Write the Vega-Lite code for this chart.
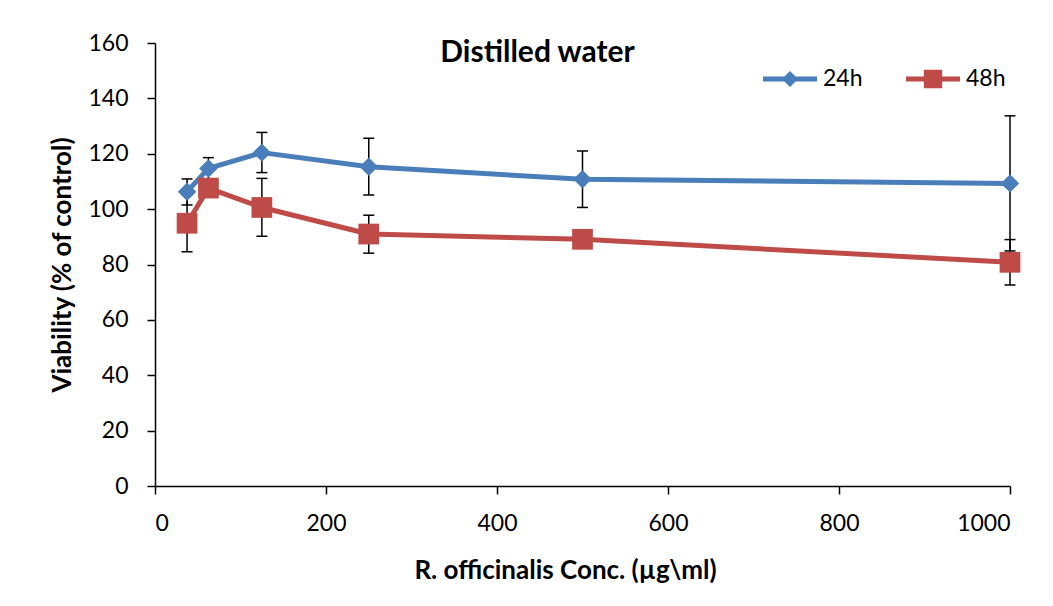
{
  "$schema": "https://vega.github.io/schema/vega-lite/v6.json",
  "width": 855,
  "height": 443,
  "autosize": "none",
  "padding": {"left": 155, "top": 43, "right": 43, "bottom": 120},
  "background": "white",
  "title": {
    "text": "Distilled water",
    "font": "Lato",
    "fontSize": 30,
    "fontWeight": "bold",
    "color": "black",
    "anchor": "middle",
    "frame": "group",
    "baseline": "middle",
    "offset": 0,
    "dx": -45,
    "dy": 51
  },
  "data": {
    "values": [
      {"conc": 37.5, "time": "24h", "v": 106.3, "lo": 101.5, "hi": 110.9},
      {"conc": 62.5, "time": "24h", "v": 114.7, "lo": 110.8, "hi": 118.6},
      {"conc": 125, "time": "24h", "v": 120.4, "lo": 113.2, "hi": 127.7},
      {"conc": 250, "time": "24h", "v": 115.3, "lo": 105.1, "hi": 125.6},
      {"conc": 500, "time": "24h", "v": 110.8, "lo": 100.6, "hi": 121.0},
      {"conc": 1000, "time": "24h", "v": 109.3, "lo": 84.9, "hi": 133.7},
      {"conc": 37.5, "time": "48h", "v": 94.9, "lo": 84.6, "hi": 105.2},
      {"conc": 62.5, "time": "48h", "v": 107.6, "lo": 105.1, "hi": 110.1},
      {"conc": 125, "time": "48h", "v": 100.6, "lo": 90.2, "hi": 111.1},
      {"conc": 250, "time": "48h", "v": 91.0, "lo": 84.1, "hi": 97.8},
      {"conc": 500, "time": "48h", "v": 89.1, "lo": 87.6, "hi": 90.6},
      {"conc": 1000, "time": "48h", "v": 80.8, "lo": 72.6, "hi": 89.0}
    ]
  },
  "encoding": {
    "x": {
      "field": "conc",
      "type": "quantitative",
      "scale": {"domain": [0, 1000], "nice": false, "zero": false},
      "axis": {
        "values": [0, 200, 400, 600, 800, 1000],
        "format": "d",
        "title": "R. officinalis Conc. (µg\\ml)",
        "titleX": 410,
        "titleY": 84,
        "titleBaseline": "middle",
        "labelPadding": 18
      }
    }
  },
  "layer": [
    {
      "mark": {"type": "rule", "color": "black", "strokeWidth": 1.5},
      "encoding": {
        "y": {
          "field": "lo",
          "type": "quantitative",
          "scale": {"domain": [0, 160], "nice": false},
          "axis": {
            "values": [0, 20, 40, 60, 80, 100, 120, 140, 160],
            "title": "Viability (% of control)",
            "titleX": -93,
            "titleY": 221.5,
            "titleAngle": -90,
            "titleBaseline": "middle",
            "titleAlign": "center",
            "labelPadding": 19
          }
        },
        "y2": {"field": "hi"}
      }
    },
    {
      "mark": {"type": "tick", "orient": "horizontal", "color": "black", "size": 11, "thickness": 1.5, "opacity": 1},
      "encoding": {"y": {"field": "lo", "type": "quantitative"}}
    },
    {
      "mark": {"type": "tick", "orient": "horizontal", "color": "black", "size": 11, "thickness": 1.5, "opacity": 1},
      "encoding": {"y": {"field": "hi", "type": "quantitative"}}
    },
    {
      "transform": [{"filter": "datum.time === '24h'"}],
      "mark": {"type": "line", "strokeWidth": 5, "strokeCap": "round", "strokeJoin": "round", "color": "#4a7ebb"},
      "encoding": {"y": {"field": "v", "type": "quantitative"}}
    },
    {
      "transform": [{"filter": "datum.time === '48h'"}],
      "mark": {"type": "line", "strokeWidth": 5, "strokeCap": "round", "strokeJoin": "round", "color": "#be4b48"},
      "encoding": {"y": {"field": "v", "type": "quantitative"}}
    },
    {
      "transform": [{"filter": "datum.time === '24h'"}],
      "mark": {"type": "point", "shape": "diamond", "filled": true, "size": 340, "color": "#4a7ebb", "opacity": 1, "strokeWidth": 0},
      "encoding": {"y": {"field": "v", "type": "quantitative"}}
    },
    {
      "transform": [{"filter": "datum.time === '48h'"}],
      "mark": {"type": "point", "shape": "square", "filled": true, "size": 430, "color": "#be4b48", "opacity": 1, "strokeWidth": 0},
      "encoding": {"y": {"field": "v", "type": "quantitative"}}
    },
    {
      "transform": [{"filter": "false"}],
      "mark": {"type": "point", "filled": true, "opacity": 1, "strokeWidth": 0},
      "encoding": {
        "y": {"field": "v", "type": "quantitative"},
        "color": {
          "field": "time",
          "type": "nominal",
          "scale": {"domain": ["24h", "48h"], "range": ["#4a7ebb", "#be4b48"]},
          "legend": {
            "orient": "none",
            "legendX": 608,
            "legendY": 9,
            "direction": "horizontal",
            "title": null,
            "padding": 0,
            "symbolSize": 2916,
            "symbolOpacity": 1,
            "symbolStrokeWidth": 0,
            "labelFont": "Lato",
            "labelFontSize": 23,
            "labelColor": "black",
            "labelOffset": 6,
            "columnPadding": 43
          }
        },
        "shape": {
          "field": "time",
          "type": "nominal",
          "scale": {
            "domain": ["24h", "48h"],
            "range": [
              "M-1,-0.093L-0.207,-0.093L0,-0.3L0.207,-0.093L1,-0.093L1,0.093L0.207,0.093L0,0.3L-0.207,0.093L-1,0.093Z",
              "M-1,-0.093L-0.34,-0.093L-0.34,-0.34L0.34,-0.34L0.34,-0.093L1,-0.093L1,0.093L0.34,0.093L0.34,0.34L-0.34,0.34L-0.34,0.093L-1,0.093Z"
            ]
          }
        }
      }
    }
  ],
  "config": {
    "view": {"stroke": null},
    "axis": {
      "grid": false,
      "domainColor": "black",
      "domainWidth": 1.5,
      "tickColor": "black",
      "tickWidth": 1.5,
      "tickSize": 8,
      "labelFont": "Lato",
      "labelFontSize": 23,
      "labelColor": "black",
      "titleFont": "Lato",
      "titleFontSize": 26,
      "titleFontWeight": "bold",
      "titleColor": "black"
    }
  }
}
